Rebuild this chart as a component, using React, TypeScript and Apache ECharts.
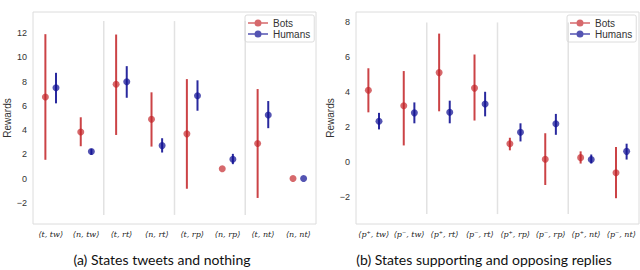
import React, { useEffect, useRef } from "react";
import * as echarts from "echarts";

// ---- Panel (a): states tweets and nothing ----
const catsA = ["⟨t, tw⟩", "⟨n, tw⟩", "⟨t, rt⟩", "⟨n, rt⟩", "⟨t, rp⟩", "⟨n, rp⟩", "⟨t, nt⟩", "⟨n, nt⟩"];
const botsMeanA = [6.73, 3.85, 7.78, 4.9, 3.69, 0.81, 2.89, 0];
const botsLowA = [1.55, 2.67, 3.6, 2.64, -0.84, 0.81, -1.6, 0];
const botsHighA = [11.92, 5.06, 11.89, 7.12, 8.21, 0.81, 7.39, 0];
const humMeanA = [7.5, 2.23, 7.99, 2.72, 6.84, 1.6, 5.25, 0];
const humLowA = [6.21, 1.96, 6.67, 2.15, 5.6, 1.19, 4.16, 0];
const humHighA = [8.73, 2.45, 9.28, 3.33, 8.11, 2.04, 6.4, 0];
const ticksA = [-2, 0, 2, 4, 6, 8, 10, 12];

// ---- Panel (b): states supporting and opposing replies ----
const catsB = ["⟨p⁺, tw⟩", "⟨p⁻, tw⟩", "⟨p⁺, rt⟩", "⟨p⁻, rt⟩", "⟨p⁺, rp⟩", "⟨p⁻, rp⟩", "⟨p⁺, nt⟩", "⟨p⁻, nt⟩"];
const botsMeanB = [4.11, 3.22, 5.12, 4.23, 1.04, 0.15, 0.24, -0.63];
const botsLowB = [2.84, 0.94, 2.9, 2.37, 0.66, -1.33, -0.1, -2.09];
const botsHighB = [5.37, 5.21, 7.36, 6.16, 1.38, 1.64, 0.6, 0.85];
const humMeanB = [2.33, 2.81, 2.84, 3.32, 1.7, 2.18, 0.13, 0.6];
const humLowB = [1.86, 2.21, 2.21, 2.61, 1.17, 1.55, -0.1, 0.13];
const humHighB = [2.81, 3.41, 3.51, 4.02, 2.21, 2.75, 0.42, 1.04];
const ticksB = [-2, 0, 2, 4, 6, 8];

const separators = [1.5, 3.5, 5.5];
const sepRangeA = [-3, 13];
const sepRangeB = [-3, 8];

const BOT = "rgba(194,34,38,0.85)";
const HUM = "rgba(18,18,148,0.9)";
const OFF = 0.15;

const LEGEND_ICON =
  "path://M0,3 L20,3 L20,4.6 L0,4.6 Z M13.5,3.8 A3.5,3.5 0 1 1 6.5,3.8 A3.5,3.5 0 1 1 13.5,3.8 Z";

function errSeries(name: string, xi: number, yi: number, mean: number[], lo: number[], hi: number[], off: number, color: string) {
  return {
    type: "custom",
    name,
    xAxisIndex: xi,
    yAxisIndex: yi,
    silent: true,
    data: mean.map((_, i) => [i + off, lo[i], hi[i]]),
    encode: { x: 0, y: [1, 2] },
    renderItem: (params: any, api: any) => {
      const x = api.value(0);
      const p1 = api.coord([x, api.value(1)]);
      const p2 = api.coord([x, api.value(2)]);
      return {
        type: "line",
        shape: { x1: p1[0], y1: p1[1], x2: p2[0], y2: p2[1] },
        style: { stroke: color, lineWidth: 2 },
      };
    },
    z: 2,
  };
}

function sepSeries(xi: number, yi: number, range: number[]) {
  return {
    type: "custom",
    name: "sep",
    xAxisIndex: xi,
    yAxisIndex: yi,
    silent: true,
    data: separators.map((s) => [s, range[0], range[1]]),
    encode: { x: 0, y: [1, 2] },
    renderItem: (params: any, api: any) => {
      const x = api.value(0);
      const p1 = api.coord([x, api.value(1)]);
      const p2 = api.coord([x, api.value(2)]);
      return {
        type: "line",
        shape: { x1: p1[0], y1: p1[1], x2: p2[0], y2: p2[1] },
        style: { stroke: "#e2e2e2", lineWidth: 1.5 },
      };
    },
    z: 1,
  };
}

function pointSeries(name: string, xi: number, yi: number, mean: number[], off: number, color: string) {
  return {
    type: "scatter",
    name,
    xAxisIndex: xi,
    yAxisIndex: yi,
    symbol: "circle",
    symbolSize: 7,
    itemStyle: { color },
    data: mean.map((v, i) => [i + off, v]),
    z: 3,
  };
}

const yAxisCommon = (min: number, max: number, ticks: number[], gridIndex: number, nameGap: number) => ({
  type: "value",
  gridIndex,
  min,
  max,
  name: "Rewards",
  nameLocation: "middle",
  nameGap,
  nameTextStyle: { fontFamily: "Liberation Sans", fontSize: 10, color: "#333" },
  axisLine: { show: false },
  axisTick: { show: false },
  splitLine: { show: false },
  axisLabel: {
    customValues: ticks,
    fontFamily: "Liberation Sans",
    fontSize: 9,
    color: "#333",
    margin: 6,
    formatter: (v: number) => (v < 0 ? "−" + Math.abs(v) : String(v)),
  },
});

const catAxis = (data: string[], gridIndex: number) => ({
  type: "category",
  gridIndex,
  data,
  position: "bottom",
  boundaryGap: true,
  axisLine: { show: false },
  axisTick: { show: false },
  splitLine: { show: false },
  axisLabel: {
    fontFamily: "DejaVu Serif",
    fontStyle: "italic",
    fontSize: 8,
    color: "#222",
    margin: 6,
    interval: 0,
  },
});

const valXAxis = (gridIndex: number) => ({
  type: "value",
  gridIndex,
  position: "top",
  min: -0.5,
  max: 7.5,
  show: false,
});

const legendCommon = (left: number) => ({
  orient: "vertical",
  left,
  top: 15,
  data: [
    { name: "Bots", icon: LEGEND_ICON },
    { name: "Humans", icon: LEGEND_ICON },
  ],
  itemWidth: 20,
  itemHeight: 7,
  itemGap: 1,
  padding: [3, 4, 3, 3],
  borderColor: "#dcdcdc",
  borderWidth: 1,
  borderRadius: 2,
  textStyle: { fontFamily: "Liberation Sans", fontSize: 10, color: "#333" },
  selectedMode: false,
});

export default function App() {
  const ref = useRef<HTMLDivElement>(null);
  useEffect(() => {
    if (!ref.current) return;
    const chart = echarts.init(ref.current, null, { renderer: "svg" });
    chart.setOption({
      animation: false,
      backgroundColor: "#fff",
      grid: [
        { left: 33, top: 12, width: 283, height: 212, show: true, borderColor: "#dcdcdc", borderWidth: 1 },
        { left: 356, top: 12, width: 283, height: 212, show: true, borderColor: "#dcdcdc", borderWidth: 1 },
      ],
      xAxis: [valXAxis(0), catAxis(catsA, 0), valXAxis(1), catAxis(catsB, 1)],
      yAxis: [yAxisCommon(-3.75, 13.75, ticksA, 0, 19), yAxisCommon(-3.57, 8.6, ticksB, 1, 20)],
      legend: [legendCommon(245), legendCommon(567)],
      graphic: [
        {
          type: "text",
          x: 162,
          y: 252,
          style: { text: "(a) States tweets and nothing", fontFamily: "Lato", fontSize: 14, fill: "#111", textAlign: "center" },
        },
        {
          type: "text",
          x: 484,
          y: 252,
          style: { text: "(b) States supporting and opposing replies", fontFamily: "Lato", fontSize: 14, fill: "#111", textAlign: "center" },
        },
      ],
      series: [
        sepSeries(0, 0, sepRangeA),
        sepSeries(2, 1, sepRangeB),
        errSeries("Bots err", 0, 0, botsMeanA, botsLowA, botsHighA, -OFF, BOT),
        errSeries("Humans err", 0, 0, humMeanA, humLowA, humHighA, OFF, HUM),
        pointSeries("Bots", 0, 0, botsMeanA, -OFF, BOT),
        pointSeries("Humans", 0, 0, humMeanA, OFF, HUM),
        errSeries("Bots err", 2, 1, botsMeanB, botsLowB, botsHighB, -OFF, BOT),
        errSeries("Humans err", 2, 1, humMeanB, humLowB, humHighB, OFF, HUM),
        pointSeries("Bots", 2, 1, botsMeanB, -OFF, BOT),
        pointSeries("Humans", 2, 1, humMeanB, OFF, HUM),
      ],
    });
    return () => chart.dispose();
  }, []);
  return <div ref={ref} style={{ width: 640, height: 270, position: "absolute", left: 0, top: 0 }} />;
}
